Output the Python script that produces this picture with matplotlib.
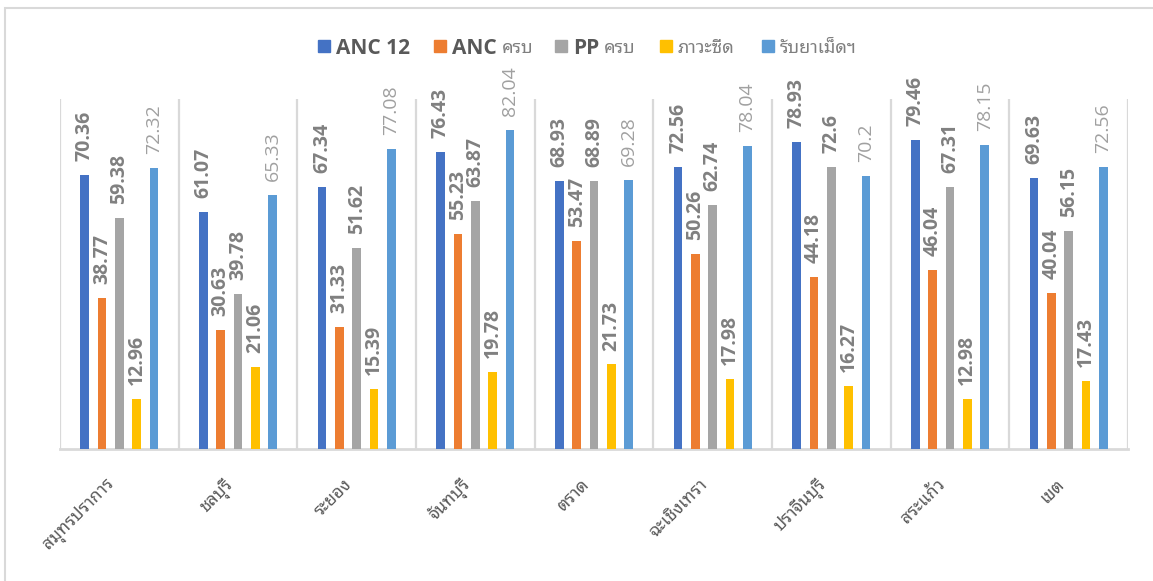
import matplotlib
matplotlib.use("Agg")
import matplotlib.pyplot as plt
from matplotlib.patches import Rectangle
from matplotlib.transforms import offset_copy
import numpy as np

provinces = ["สมุทรปราการ", "ชลบุรี", "ระยอง", "จันทบุรี", "ตราด",
             "ฉะเชิงเทรา", "ปราจีนบุรี", "สระแก้ว", "เขต"]
anc12 = [70.36, 61.07, 67.34, 76.43, 68.93, 72.56, 78.93, 79.46, 69.63]
anc_complete = [38.77, 30.63, 31.33, 55.23, 53.47, 50.26, 44.18, 46.04, 40.04]
pp_complete = [59.38, 39.78, 51.62, 63.87, 68.89, 62.74, 72.6, 67.31, 56.15]
anemia = [12.96, 21.06, 15.39, 19.78, 21.73, 17.98, 16.27, 12.98, 17.43]
iron_pills = [72.32, 65.33, 77.08, 82.04, 69.28, 78.04, 70.2, 78.15, 72.56]

series = [anc12, anc_complete, pp_complete, anemia, iron_pills]
colors = ["#4472C4", "#ED7D31", "#A5A5A5", "#FFC000", "#5B9BD5"]

LATIN = ["Open Sans", "Noto Sans Thai Looped", "DejaVu Sans"]
THAI = ["Noto Sans Thai Looped", "DejaVu Sans"]

W, H = 1153, 581
fig = plt.figure(figsize=(W / 100, H / 100), dpi=100)

# outer chart frame
fig.patches.append(Rectangle((5 / W, -0.5), 2.0, 1.5 - 8 / H, transform=fig.transFigure,
                             fill=False, edgecolor="#d9d9d9", linewidth=1.5))

left, right, base, top = 60, 1128, 449, 99
ax = fig.add_axes([left / W, 1 - base / H, (right - left) / W, (base - top) / H])

n = len(provinces)
x = np.arange(n)
step = 0.146
width = 0.075
label_color = "#808080"
for k, (vals, c) in enumerate(zip(series, colors)):
    xs = x + (k - 2) * step
    ax.bar(xs, vals, width=width, color=c, zorder=3)
    last = k == len(series) - 1
    for xi, v in zip(xs, vals):
        ax.annotate(f"{v:g}", (xi, v), xytext=(0, 10), textcoords="offset points",
                    rotation=90, ha="center", va="bottom",
                    fontsize=14, family=LATIN,
                    fontweight="normal" if last else "bold",
                    color="#a0a0a0" if last else label_color)

ax.set_xlim(-0.5, n - 0.5)
ax.set_ylim(0, 90)
ax.set_yticks([])
ax.set_xticks([])
for s in ["left", "right", "top"]:
    ax.spines[s].set_visible(False)
ax.spines["bottom"].set_color("#d9d9d9")
ax.spines["bottom"].set_linewidth(2)
for b in np.arange(n + 1) - 0.5:
    ax.axvline(b, color="#d9d9d9", linewidth=1.6, zorder=1)

# rotated category labels
for xi, name in zip(x, provinces):
    tr = offset_copy(ax.get_xaxis_transform(), fig=fig, x=-14, y=-26, units="dots")
    ax.text(xi, 0, name, transform=tr, rotation=45, rotation_mode="anchor",
            ha="right", va="top", fontsize=12.5, family=THAI, color="#595959")

# legend row
legend_items = [
    (318, [("ANC 12", LATIN, "bold", "#595959", 15)]),
    (434, [("ANC", LATIN, "bold", "#595959", 15), ("ครบ", THAI, "normal", "#7f7f7f", 13)]),
    (555, [("PP", LATIN, "bold", "#595959", 15), ("ครบ", THAI, "normal", "#7f7f7f", 13)]),
    (660, [("ภาวะซีด", THAI, "normal", "#7f7f7f", 13)]),
    (762, [("รับยาเม็ดฯ", THAI, "normal", "#7f7f7f", 13)]),
]
ly = 46
placed = []
for (px, parts), c in zip(legend_items, colors):
    fig.patches.append(Rectangle((px / W, 1 - (ly + 6) / H), 12 / W, 12 / H,
                                 transform=fig.transFigure, color=c))
    texts = []
    for txt, fam, wt, col, fs in parts:
        texts.append(fig.text((px + 18) / W, 1 - ly / H, txt, family=fam, fontweight=wt,
                              color=col, fontsize=fs, ha="left", va="center_baseline"))
    placed.append(texts)

# place secondary legend pieces right after their first piece
fig.canvas.draw()
r = fig.canvas.get_renderer()
for texts in placed:
    for j in range(1, len(texts)):
        bb = texts[j - 1].get_window_extent(r)
        texts[j].set_position(((bb.x1 + 5) / W, 1 - ly / H))

fig.savefig("out.png", dpi=100)
